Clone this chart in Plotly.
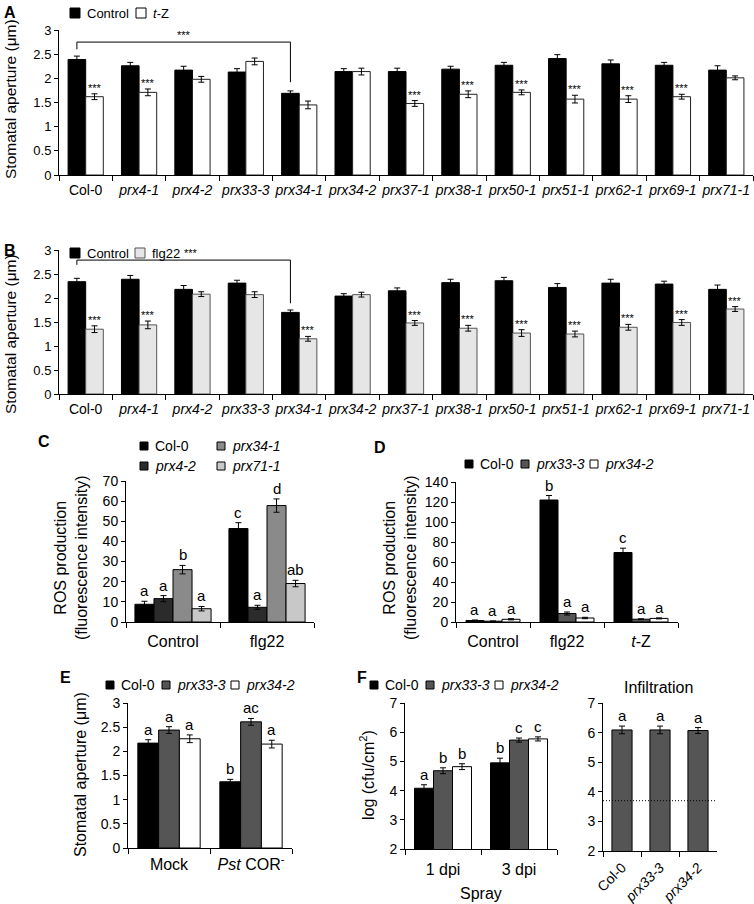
import plotly.graph_objects as go

W, H = 754, 904
FONT = "Arial, 'Liberation Sans', sans-serif"

# ---------------- data ----------------
strains = ["Col-0", "<i>prx4-1</i>", "<i>prx4-2</i>", "<i>prx33-3</i>", "<i>prx34-1</i>",
           "<i>prx34-2</i>", "<i>prx37-1</i>", "<i>prx38-1</i>", "<i>prx50-1</i>",
           "<i>prx51-1</i>", "<i>prx62-1</i>", "<i>prx69-1</i>", "<i>prx71-1</i>"]

# panel A: control vs t-Z
a_control = [2.39, 2.26, 2.17, 2.13, 1.69, 2.14, 2.14, 2.19, 2.27, 2.41, 2.30, 2.27, 2.17]
a_control_err = [0.07, 0.07, 0.08, 0.07, 0.05, 0.06, 0.07, 0.06, 0.06, 0.08, 0.08, 0.06, 0.09]
a_tz = [1.62, 1.71, 1.98, 2.35, 1.45, 2.14, 1.48, 1.67, 1.71, 1.57, 1.57, 1.62, 2.01]
a_tz_err = [0.06, 0.07, 0.06, 0.07, 0.08, 0.07, 0.06, 0.07, 0.05, 0.08, 0.07, 0.05, 0.04]
a_tz_sig = ["***", "***", "", "", "", "", "***", "***", "***", "***", "***", "***", ""]

# panel B: control vs flg22
b_control = [2.34, 2.39, 2.18, 2.31, 1.70, 2.04, 2.15, 2.32, 2.36, 2.22, 2.31, 2.29, 2.18]
b_control_err = [0.07, 0.08, 0.08, 0.06, 0.05, 0.05, 0.06, 0.07, 0.07, 0.08, 0.08, 0.06, 0.09]
b_flg22 = [1.35, 1.44, 2.08, 2.07, 1.15, 2.07, 1.48, 1.37, 1.27, 1.25, 1.39, 1.49, 1.77]
b_flg22_err = [0.07, 0.08, 0.05, 0.06, 0.05, 0.05, 0.05, 0.06, 0.07, 0.06, 0.06, 0.06, 0.05]
b_flg22_sig = ["***", "***", "", "", "***", "", "***", "***", "***", "***", "***", "***", "***"]

# panel C: ROS, 4 genotypes
c_groups = ["Control", "flg22"]
c_col0 = [8.8, 46.4]
c_col0_err = [1.5, 2.9]
c_prx42 = [11.6, 7.3]
c_prx42_err = [1.5, 1.0]
c_prx341 = [26.0, 57.8]
c_prx341_err = [2.1, 3.3]
c_prx711 = [6.6, 19.1]
c_prx711_err = [1.1, 1.6]
c_letters = [["a", "c"], ["a", "a"], ["b", "d"], ["a", "ab"]]

# panel D: ROS, 3 genotypes
d_groups = ["Control", "flg22", "<i>t</i>-Z"]
d_col0 = [1.5, 122.0, 69.5]
d_col0_err = [0.5, 4.5, 4.3]
d_prx333 = [0.8, 8.5, 2.8]
d_prx333_err = [0.3, 1.5, 0.4]
d_prx342 = [2.7, 4.0, 3.6]
d_prx342_err = [0.6, 0.7, 0.5]
d_letters = [["a", "b", "c"], ["a", "a", "a"], ["a", "a", "a"]]

# panel E: stomatal aperture with Pst COR-
e_groups = ["Mock", "<i>Pst</i> COR<sup>-</sup>"]
e_col0 = [2.17, 1.37]
e_col0_err = [0.07, 0.05]
e_prx333 = [2.44, 2.61]
e_prx333_err = [0.07, 0.07]
e_prx342 = [2.26, 2.15]
e_prx342_err = [0.08, 0.08]
e_letters = [["a", "b"], ["a", "ac"], ["a", "a"]]

# panel F: bacterial growth, spray
f_groups = ["1 dpi", "3 dpi"]
f_col0 = [4.08, 4.95]
f_col0_err = [0.12, 0.16]
f_prx333 = [4.68, 5.73]
f_prx333_err = [0.10, 0.07]
f_prx342 = [4.82, 5.77]
f_prx342_err = [0.10, 0.07]
f_letters = [["a", "b"], ["b", "c"], ["b", "c"]]

# panel F: infiltration
inf_strains = ["Col-0", "<i>prx33-3</i>", "<i>prx34-2</i>"]
inf_values = [6.09, 6.09, 6.07]
inf_err = [0.13, 0.13, 0.10]
inf_letters = ["a", "a", "a"]
detection_limit = 3.7

BLACK = "#000000"
DARK = "#555555"

fig = go.Figure()
annotations = []
shapes = []


def bar_center(idx, i, n, gap):
    w = (1 - gap) / n
    return idx - (1 - gap) / 2 + w * (i + 0.5)


def add_bars(ax, cats, series, gap):
    n = len(series)
    w = (1 - gap) / n
    for i, (vals, errs, fill, edge) in enumerate(series):
        fig.add_trace(go.Bar(
            x=cats, y=vals, width=w, offset=-(1 - gap) / 2 + w * i,
            marker=dict(color=fill, line=dict(color=edge, width=1)),
            error_y=dict(type="data", array=errs, color="black", thickness=1, width=3),
            xaxis="x" + ax, yaxis="y" + ax, showlegend=False, hoverinfo="skip"))


def add_marks(ax, vals, errs, labels, i, n, gap, size=15, yshift=0):
    for idx, (v, e, t) in enumerate(zip(vals, errs, labels)):
        if not t:
            continue
        annotations.append(dict(
            x=bar_center(idx, i, n, gap), y=v + e, xref="x" + ax, yref="y" + ax,
            text=t, showarrow=False, yanchor="bottom", yshift=yshift,
            font=dict(size=size, color="black", family=FONT)))


def px_text(x, y, text, size=13, **kw):
    annotations.append(dict(x=x / W, y=1 - y / H, xref="paper", yref="paper", text=text,
                            showarrow=False, font=dict(size=size, color="black", family=FONT),
                            **kw))


def legend_item(x, y, size, fill, edge, text, fsize=13, pad=5):
    shapes.append(dict(type="rect", xref="paper", yref="paper",
                       x0=x / W, x1=(x + size) / W,
                       y0=1 - (y + size / 2) / H, y1=1 - (y - size / 2) / H,
                       fillcolor=fill, line=dict(color=edge, width=1)))
    px_text(x + size + pad, y, text, size=fsize, xanchor="left", yanchor="middle")


def set_axes(ax, xdom, ydom, yrange, dtick, ncat, xfont=14, yfont=13, standoff=2, **xkw):
    key = ax
    xa = dict(domain=[xdom[0] / W, xdom[1] / W], anchor="y" + key, type="category",
              range=[-0.5, ncat - 0.5], showline=True, linecolor="black", linewidth=1,
              ticks="outside", tickson="boundaries", ticklen=5, tickcolor="black",
              showgrid=False, zeroline=False, ticklabelstandoff=standoff, tickangle=0,
              automargin=False,
              tickfont=dict(size=xfont, color="black", family=FONT), fixedrange=True)
    xa.update(xkw)
    ya = dict(domain=[1 - ydom[1] / H, 1 - ydom[0] / H], anchor="x" + key,
              range=yrange, dtick=dtick, showline=True, linecolor="black", linewidth=1,
              ticks="outside", ticklen=4, tickcolor="black", showgrid=False,
              zeroline=False, automargin=False,
              tickfont=dict(size=yfont, color="black", family=FONT), fixedrange=True)
    fig.update_layout({"xaxis" + key: xa, "yaxis" + key: ya})


# ---------------- panel A ----------------
GAP_AB = 0.34
add_bars("", strains, [(a_control, a_control_err, BLACK, BLACK),
                       (a_tz, a_tz_err, "white", "#222222")], GAP_AB)
add_marks("", a_tz, a_tz_err, a_tz_sig, 1, 2, GAP_AB, size=11, yshift=-2)
set_axes("", (59, 753), (30, 175), [0, 3], 0.5, len(strains))
xl = bar_center(0, 0, 2, GAP_AB)
xr = bar_center(4, 0, 2, GAP_AB)
for x0, y0, x1, y1 in [(xl, 2.75, xr, 2.75), (xl, 2.75, xl, 2.6), (xr, 2.75, xr, 1.92)]:
    shapes.append(dict(type="line", xref="x", yref="y", x0=x0, y0=y0, x1=x1, y1=y1,
                       line=dict(color="black", width=1)))
annotations.append(dict(x=(xl + xr) / 2, y=2.78, xref="x", yref="y", text="***",
                        showarrow=False, yanchor="bottom", yshift=-2,
                        font=dict(size=11, color="black", family=FONT)))
legend_item(70, 13, 10, BLACK, BLACK, "Control")
legend_item(136, 13, 10, "white", BLACK, "<i>t</i>-Z")
px_text(2, 12, "<b>A</b>", size=16, xanchor="left", yanchor="middle")
px_text(10, 99, "Stomatal aperture (μm)", size=15.5, textangle=-90,
        xanchor="center", yanchor="middle")

# ---------------- panel B ----------------
add_bars("2", strains, [(b_control, b_control_err, BLACK, BLACK),
                        (b_flg22, b_flg22_err, "#e6e6e6", "#555555")], GAP_AB)
add_marks("2", b_flg22, b_flg22_err, b_flg22_sig, 1, 2, GAP_AB, size=11, yshift=-2)
set_axes("2", (59, 753), (250, 394), [0, 3], 0.5, len(strains))
for x0, y0, x1, y1 in [(xl, 2.79, xr, 2.79), (xl, 2.79, xl, 2.69), (xr, 2.79, xr, 1.89)]:
    shapes.append(dict(type="line", xref="x2", yref="y2", x0=x0, y0=y0, x1=x1, y1=y1,
                       line=dict(color="black", width=1)))
annotations.append(dict(x=(xl + xr) / 2, y=2.82, xref="x2", yref="y2", text="***",
                        showarrow=False, yanchor="bottom", yshift=-2, xshift=7,
                        font=dict(size=11, color="black", family=FONT)))
legend_item(70, 253, 10, BLACK, BLACK, "Control")
legend_item(135, 253, 10, "#e6e6e6", "#555555", "flg22")
px_text(2, 250, "<b>B</b>", size=16, xanchor="left", yanchor="middle")
px_text(10, 334, "Stomatal aperture (μm)", size=15.5, textangle=-90,
        xanchor="center", yanchor="middle")

# ---------------- panel C ----------------
GAP_C = 0.19
c_series = [(c_col0, c_col0_err, BLACK, BLACK),
            (c_prx42, c_prx42_err, "#2b2b2b", BLACK),
            (c_prx341, c_prx341_err, "#8a8a8a", BLACK),
            (c_prx711, c_prx711_err, "#c8c8c8", BLACK)]
add_bars("3", c_groups, c_series, GAP_C)
for i, (vals, errs, _, _) in enumerate(c_series):
    add_marks("3", vals, errs, c_letters[i], i, 4, GAP_C, size=15)
set_axes("3", (126, 314), (481, 622), [0, 70], 10, 2, xfont=16, yfont=14, standoff=5)
legend_item(140, 446, 8, BLACK, BLACK, "Col-0", fsize=14)
legend_item(217, 446, 8, "#8a8a8a", BLACK, "<i>prx34-1</i>", fsize=14)
legend_item(140, 466, 8, "#2b2b2b", BLACK, "<i>prx4-2</i>", fsize=14)
legend_item(217, 466, 8, "#c8c8c8", BLACK, "<i>prx71-1</i>", fsize=14)
px_text(36, 442, "<b>C</b>", size=16, xanchor="left", yanchor="middle")
px_text(71, 558, "ROS production<br>(fluorescence intensity)", size=16, textangle=-90,
        xanchor="center", yanchor="middle")

# ---------------- panel D ----------------
GAP_D = 0.27
d_series = [(d_col0, d_col0_err, BLACK, BLACK),
            (d_prx333, d_prx333_err, DARK, BLACK),
            (d_prx342, d_prx342_err, "white", BLACK)]
add_bars("4", d_groups, d_series, GAP_D)
for i, (vals, errs, _, _) in enumerate(d_series):
    add_marks("4", vals, errs, d_letters[i], i, 3, GAP_D, size=15)
set_axes("4", (456, 678), (482, 622), [0, 140], 20, 3, xfont=16, yfont=14, standoff=5)
legend_item(465, 464, 8, BLACK, BLACK, "Col-0", fsize=14)
legend_item(521, 464, 8, DARK, BLACK, "<i>prx33-3</i>", fsize=14)
legend_item(590, 464, 8, "white", BLACK, "<i>prx34-2</i>", fsize=14)
px_text(372, 447, "<b>D</b>", size=16, xanchor="left", yanchor="middle")
px_text(400, 558, "ROS production<br>(fluorescence intensity)", size=16, textangle=-90,
        xanchor="center", yanchor="middle")

# ---------------- panel E ----------------
GAP_E = 0.24
e_series = [(e_col0, e_col0_err, BLACK, BLACK),
            (e_prx333, e_prx333_err, DARK, BLACK),
            (e_prx342, e_prx342_err, "white", BLACK)]
add_bars("5", e_groups, e_series, GAP_E)
for i, (vals, errs, _, _) in enumerate(e_series):
    add_marks("5", vals, errs, e_letters[i], i, 3, GAP_E, size=15)
set_axes("5", (128, 292), (703, 848), [0, 3], 0.5, 2, xfont=16, yfont=14, standoff=2)
legend_item(106, 685, 8, BLACK, BLACK, "Col-0", fsize=14)
legend_item(162, 685, 8, DARK, BLACK, "<i>prx33-3</i>", fsize=14)
legend_item(231, 685, 8, "white", BLACK, "<i>prx34-2</i>", fsize=14)
px_text(58, 677, "<b>E</b>", size=16, xanchor="left", yanchor="middle")
px_text(80, 775, "Stomatal aperture (μm)", size=16, textangle=-90,
        xanchor="center", yanchor="middle")

# ---------------- panel F (spray) ----------------
GAP_F = 0.25
f_series = [(f_col0, f_col0_err, BLACK, BLACK),
            (f_prx333, f_prx333_err, DARK, BLACK),
            (f_prx342, f_prx342_err, "white", BLACK)]
add_bars("6", f_groups, f_series, GAP_F)
for i, (vals, errs, _, _) in enumerate(f_series):
    add_marks("6", vals, errs, f_letters[i], i, 3, GAP_F, size=15)
set_axes("6", (405, 557), (703, 849), [2, 7], 1, 2, xfont=16, yfont=14, standoff=6)
legend_item(370, 685, 8, BLACK, BLACK, "Col-0", fsize=14)
legend_item(426, 685, 8, DARK, BLACK, "<i>prx33-3</i>", fsize=14)
legend_item(495, 685, 8, "white", BLACK, "<i>prx34-2</i>", fsize=14)
px_text(355, 677, "<b>F</b>", size=16, xanchor="left", yanchor="middle")
px_text(367, 775, "log (cfu/cm<sup>2</sup>)", size=16, textangle=-90,
        xanchor="center", yanchor="middle")
px_text(481, 893, "Spray", size=16, xanchor="center", yanchor="middle")

# ---------------- panel F (infiltration) ----------------
GAP_I = 0.47
add_bars("7", inf_strains, [(inf_values, inf_err, DARK, BLACK)], GAP_I)
add_marks("7", inf_values, inf_err, inf_letters, 0, 1, GAP_I, size=15)
set_axes("7", (603, 717), (703, 851), [2, 7], 1, 3, xfont=14, yfont=14, standoff=2,
         tickangle=-45)
shapes.append(dict(type="line", xref="x7", yref="y7", x0=-0.5, x1=2.45,
                   y0=detection_limit, y1=detection_limit, layer="above",
                   line=dict(color="black", width=1, dash="1px,2px")))
px_text(658, 687, "Infiltration", size=16, xanchor="center", yanchor="middle")

fig.update_layout(
    width=W, height=H, margin=dict(l=0, r=0, t=0, b=0),
    paper_bgcolor="white", plot_bgcolor="white",
    barmode="overlay", showlegend=False,
    font=dict(family=FONT, color="black"),
    annotations=annotations, shapes=shapes,
)

# the page's default body margin would push the 754x904 figure off the window
fig.write_html("out.html", config={"displayModeBar": False},
               post_script="document.body.style.margin = '0';")
